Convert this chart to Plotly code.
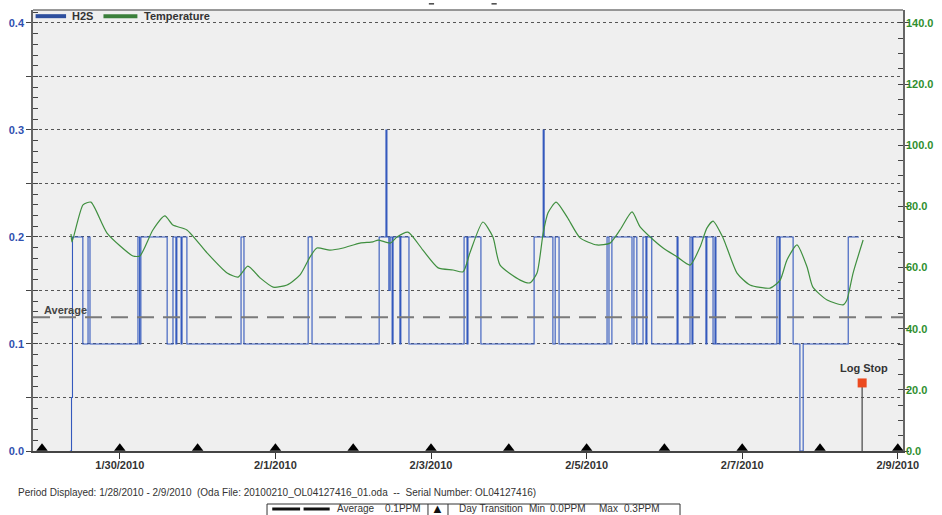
import pandas as pd
import plotly.graph_objects as go

BASE = pd.Timestamp("2010-01-29 00:00")

# H2S step readings (hours since 2010-01-29 00:00, ppm)
h2s_hours = [8.6, 9.1, 9.4, 12.6, 14.2, 14.8,
             29.6, 30.1, 30.5, 38.6, 40.4, 41.3, 41.6, 42.9, 43.2, 44.7,
             61.4, 62.3,
             82.1, 83.3,
             104.0, 106.1, 106.4, 107.0, 107.4, 108.0, 108.3, 110.4, 110.7, 113.2,
             130.2, 131.1, 131.4, 135.4,
             151.8, 154.6, 154.9, 157.6, 158.3, 159.5,
             174.3, 174.9, 175.8, 182.0, 182.6, 183.5, 185.4, 186.3, 186.6, 188.1,
             195.9, 196.2,
             199.9, 200.5, 200.8, 204.8, 205.1, 207.0, 207.6, 207.9,
             226.7, 227.4, 227.7, 231.7,
             233.8, 234.8,
             248.7, 252.0]
h2s_ppm = [0.0, 0.05, 0.2, 0.1, 0.2, 0.1,
           0.2, 0.1, 0.2, 0.1, 0.2, 0.1, 0.2, 0.1, 0.2, 0.1,
           0.2, 0.1,
           0.2, 0.1,
           0.2, 0.3, 0.2, 0.15, 0.2, 0.1, 0.2, 0.1, 0.2, 0.1,
           0.2, 0.1, 0.2, 0.1,
           0.2, 0.3, 0.2, 0.1, 0.2, 0.1,
           0.2, 0.1, 0.2, 0.1, 0.2, 0.1, 0.2, 0.1, 0.2, 0.1,
           0.2, 0.1,
           0.2, 0.1, 0.2, 0.1, 0.2, 0.1, 0.2, 0.1,
           0.2, 0.1, 0.2, 0.1,
           0.0, 0.1,
           0.2, 0.2]

# Temperature (hours since 2010-01-29 00:00, deg)
temp_hours = [8.95, 9.25, 12.65, 15.1, 20.05, 28.07, 30.2, 34.2, 37.9, 40.4,
              44.7, 50.9, 57.1, 60.5, 63.5, 67.3, 71.3, 75.6, 79.6, 82.7,
              84.8, 88.8, 92.9, 98.1, 102.1, 103.7, 107.4, 109.5, 112.9, 117.5,
              122.2, 126.8, 129.9, 132.0, 136.0, 139.1, 141.3, 147.5, 150.5, 152.7,
              154.6, 156.1, 158.6, 162.0, 166.0, 171.2, 175.2, 178.3, 182.0, 184.5,
              187.6, 191.6, 195.9, 199.9, 203.0, 205.1, 207.0, 210.1, 214.4, 218.4,
              224.6, 227.7, 229.8, 232.9, 236.0, 237.8, 242.2, 247.1, 248.3, 250.2,
              253.3]
temp_values = [71.0, 68.4, 80.5, 81.4, 71.3, 63.8, 63.8, 72.3, 76.9, 73.9,
               72.3, 64.8, 58.2, 56.9, 60.5, 56.6, 53.6, 54.3, 57.6, 63.5,
               66.4, 65.7, 66.4, 68.0, 68.4, 69.0, 68.0, 70.0, 71.6, 65.7,
               59.9, 59.2, 58.6, 64.8, 74.9, 70.0, 60.8, 55.9, 55.0, 58.2,
               71.3, 77.9, 81.4, 76.5, 69.7, 67.4, 68.0, 72.3, 78.2, 73.3,
               70.0, 66.4, 63.5, 60.8, 66.7, 72.9, 75.2, 69.7, 58.2, 54.3,
               53.3, 55.9, 62.5, 67.4, 60.2, 53.6, 49.4, 47.8, 49.4, 58.2,
               69.0]

avg_h2s = 0.125
log_stop_hours = 253.0
log_stop_level = 0.0636

day_transitions = pd.date_range("2010-01-29", "2010-02-09", freq="D")
x_tick_dates = ["2010-01-30", "2010-02-01", "2010-02-03", "2010-02-05", "2010-02-07", "2010-02-09"]
x_tick_labels = ["1/30/2010", "2/1/2010", "2/3/2010", "2/5/2010", "2/7/2010", "2/9/2010"]
y_grid_vals = [0.0, 0.05, 0.1, 0.15, 0.2, 0.25, 0.3, 0.35, 0.4]
y_tick_labels = ["0.0", "", "0.1", "", "0.2", "", "0.3", "", "0.4"]
y2_tick_vals = [0, 20, 40, 60, 80, 100, 120, 140]
y2_tick_labels = ["0.0", "20.0", "40.0", "60.0", "80.0", "100.0", "120.0", "140.0"]

h2s_t = [BASE + pd.Timedelta(hours=h) for h in h2s_hours]
temp_t = [BASE + pd.Timedelta(hours=h) for h in temp_hours]
log_t = BASE + pd.Timedelta(hours=log_stop_hours)

BLUE = "#3459bd"
GREEN = "#3f8f3f"
FONT = "Liberation Sans, Arial, sans-serif"

fig = go.Figure()
fig.add_trace(go.Scatter(x=temp_t, y=temp_values, yaxis="y2", mode="lines",
                         line=dict(color=GREEN, width=1.2, shape="spline", smoothing=0.6),
                         showlegend=False, hoverinfo="skip"))
fig.add_trace(go.Scatter(x=h2s_t, y=h2s_ppm, mode="lines",
                         line=dict(color=BLUE, width=1.1, shape="hv"),
                         showlegend=False, hoverinfo="skip"))
# day transition markers
fig.add_trace(go.Scatter(x=list(day_transitions), y=[0.0025] * len(day_transitions), mode="markers",
                         marker=dict(symbol="triangle-up", size=10, color="black"),
                         cliponaxis=False, showlegend=False, hoverinfo="skip"))
# log stop marker
fig.add_trace(go.Scatter(x=[log_t], y=[log_stop_level], mode="markers",
                         marker=dict(symbol="square", size=9, color="#ec4a1f"),
                         showlegend=False, hoverinfo="skip"))

shapes = []
# average line
shapes.append(dict(type="line", xref="paper", yref="y", x0=0, x1=1, y0=avg_h2s, y1=avg_h2s,
                   line=dict(color="#7a7a7a", width=2, dash="17px,9px"), layer="above"))
# log stop stem
shapes.append(dict(type="line", xref="x", yref="y", x0=log_t, x1=log_t, y0=0, y1=log_stop_level,
                   line=dict(color="#666666", width=1.5), layer="below"))
# top frame
shapes.append(dict(type="line", xref="paper", yref="paper", x0=0, x1=1, y0=1, y1=1,
                   line=dict(color="#777777", width=1.5)))
# legend lines
shapes.append(dict(type="line", xref="paper", yref="paper", x0=0.003, x1=0.038, y0=0.986, y1=0.986,
                   line=dict(color="#2e4f9e", width=4)))
shapes.append(dict(type="line", xref="paper", yref="paper", x0=0.081, x1=0.12, y0=0.986, y1=0.986,
                   line=dict(color="#3a7f3a", width=4)))
# small title dashes
for xp in [0.455, 0.527]:
    shapes.append(dict(type="line", xref="paper", yref="paper", x0=xp, x1=xp + 0.006, y0=1.014, y1=1.014,
                       line=dict(color="#444", width=1.5)))
# footer box
shapes.append(dict(type="rect", xref="paper", yref="paper", x0=0.269, x1=0.7437, y0=-0.1202, y1=-0.17,
                   line=dict(color="#333", width=1)))
shapes.append(dict(type="line", xref="paper", yref="paper", x0=0.4540, x1=0.4540, y0=-0.1202, y1=-0.17,
                   line=dict(color="#333", width=1)))
shapes.append(dict(type="line", xref="paper", yref="paper", x0=0.4770, x1=0.4770, y0=-0.1202, y1=-0.17,
                   line=dict(color="#333", width=1)))
shapes.append(dict(type="line", xref="paper", yref="paper", x0=0.275, x1=0.307, y0=-0.1315, y1=-0.1315,
                   line=dict(color="#111", width=3)))
shapes.append(dict(type="line", xref="paper", yref="paper", x0=0.311, x1=0.341, y0=-0.1315, y1=-0.1315,
                   line=dict(color="#111", width=3)))

FOOT_Y = -0.1300
foot_font = dict(family=FONT, size=10, color="#333")


def foot(text, x, anchor="left", font=foot_font):
    return dict(text=text, x=x, y=FOOT_Y, xref="paper", yref="paper", xanchor=anchor, yanchor="middle",
                showarrow=False, font=font)


annotations = [
    dict(text="<b>H2S</b>", x=0.042, y=0.986, xref="paper", yref="paper", xanchor="left", yanchor="middle",
         showarrow=False, font=dict(family=FONT, size=11, color="#333")),
    dict(text="<b>Temperature</b>", x=0.125, y=0.986, xref="paper", yref="paper", xanchor="left", yanchor="middle",
         showarrow=False, font=dict(family=FONT, size=11, color="#333")),
    dict(text="<b>Average</b>", x=0.01, y=avg_h2s, xref="paper", yref="y", xanchor="left", yanchor="bottom",
         yshift=-1, showarrow=False, font=dict(family=FONT, size=11, color="#444")),
    dict(text="<b>Log Stop</b>", x=log_t, y=log_stop_level, xref="x", yref="y", xanchor="center", yanchor="bottom",
         yshift=7, xshift=2, showarrow=False, font=dict(family=FONT, size=11, color="#333")),
    dict(text="Period Displayed: 1/28/2010 - 2/9/2010  (Oda File: 20100210_OL04127416_01.oda  --  Serial Number: OL04127416)",
         x=-0.0195, y=-0.0952, xref="paper", yref="paper", xanchor="left", yanchor="middle",
         showarrow=False, font=dict(family=FONT, size=10, color="#333")),
    foot("Average", 0.3471),
    foot("0.1PPM", 0.4023),
    foot("▲", 0.4655, "center", dict(family=FONT, size=13, color="#111")),
    foot("Day Transition", 0.4874),
    foot("Min", 0.5678),
    foot("0.0PPM", 0.5920),
    foot("Max", 0.6480),
    foot("0.3PPM", 0.6770),
]

x_start = BASE + pd.Timedelta(hours=-2.78)
x_end = BASE + pd.Timedelta(hours=265.6)

fig.update_layout(
    width=942, height=515,
    margin=dict(l=33, r=39, t=10, b=64, autoexpand=False),
    paper_bgcolor="white",
    plot_bgcolor="#efefef",
    font=dict(family=FONT, size=10, color="#333"),
    showlegend=False,
    shapes=shapes,
    annotations=annotations,
    xaxis=dict(type="date", range=[x_start, x_end], tickmode="array", automargin=False,
               tickvals=x_tick_dates, ticktext=x_tick_labels,
               ticks="outside", ticklen=6, tickcolor="#333", tickwidth=1, ticklabelstandoff=-3,
               tickfont=dict(family=FONT, size=11, color="#333", weight="bold"),
               showgrid=False, zeroline=False, showline=True, linecolor="#444", linewidth=2),
    yaxis=dict(range=[0, 0.4121], tickmode="array", tickvals=y_grid_vals, ticktext=y_tick_labels,
               automargin=False, ticks="outside", ticklen=5, tickcolor="#444",
               tickfont=dict(family=FONT, size=11, color="#3050b0", weight="bold"),
               showgrid=True, gridcolor="#555", griddash="dot", gridwidth=1,
               minor=dict(dtick=0.01, tick0=0, ticks="inside", ticklen=5, tickcolor="#444", showgrid=False),
               zeroline=False, showline=True, linecolor="#666", linewidth=1.5),
    yaxis2=dict(range=[0, 144.25], overlaying="y", side="right", tickmode="array", automargin=False,
                tickvals=y2_tick_vals, ticktext=y2_tick_labels,
                ticks="outside", ticklen=4, tickcolor="#444", ticklabelstandoff=-5,
                tickfont=dict(family=FONT, size=11, color="#2f8f2f", weight="bold"),
                minor=dict(dtick=5, tick0=0, ticks="inside", ticklen=5, tickcolor="#444", showgrid=False),
                showgrid=False, zeroline=False, showline=True, linecolor="#666", linewidth=1.5),
)

fig.write_html("out.html", config={"displayModeBar": False},
               post_script="document.body.style.margin='0';document.body.style.overflow='hidden';")
